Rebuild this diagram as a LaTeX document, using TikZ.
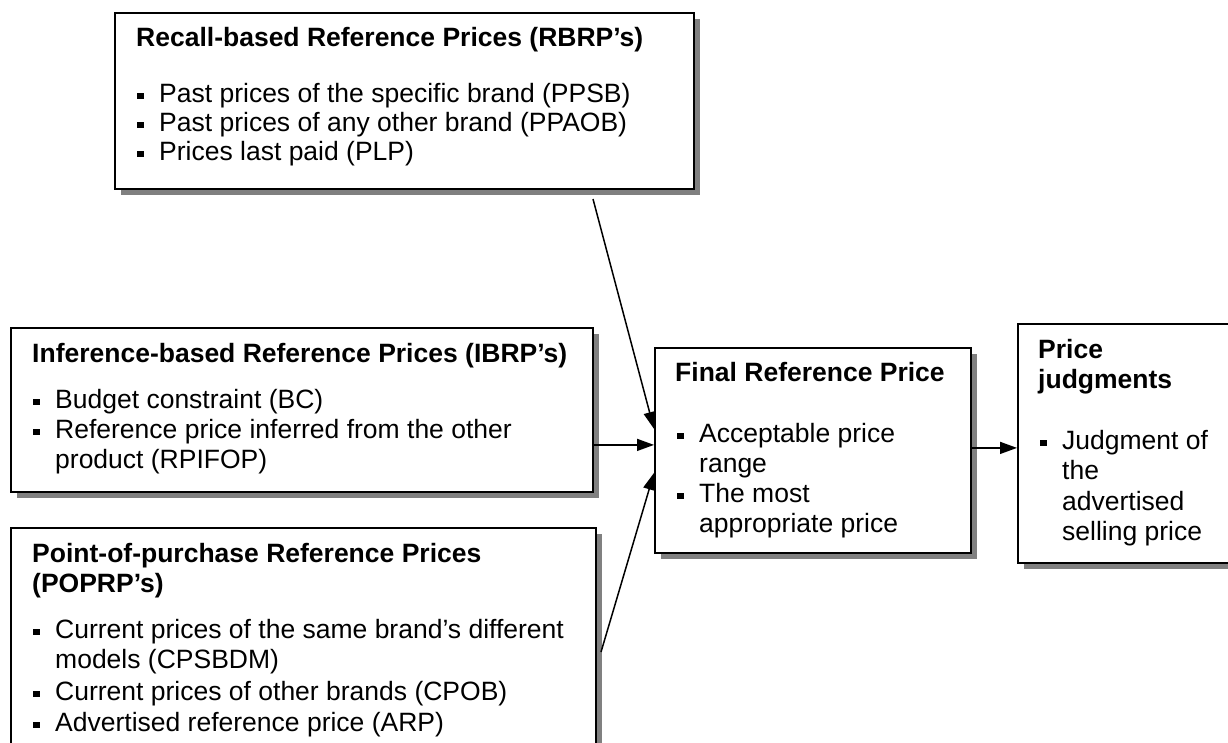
\documentclass[tikz,border=0pt]{standalone}
\usepackage{fontspec}
\setmainfont{Liberation Sans}
\usetikzlibrary{arrows.meta}
\newcommand\bsq{\makebox[22pt][l]{\rule[3pt]{6.5pt}{6.5pt}}}
\begin{document}
\begin{tikzpicture}[x=1pt,y=-1pt,
  box/.style={draw=black, line width=1.8pt, fill=white, inner sep=0pt, anchor=north west},
  shade/.style={fill=black!50},
  txt/.style={anchor=base west, inner sep=0pt, font=\fontsize{26.5}{30}\selectfont},
  ttl/.style={anchor=base west, inner sep=0pt, font=\fontsize{26.5}{30}\selectfont\bfseries},
  arr/.style={line width=1.5pt, -{Triangle[length=17pt,width=12pt]}}]
\useasboundingbox (0,0) rectangle (1228,742);
\clip (0,0) rectangle (1228,742);
\fill[white] (0,0) rectangle (1228,742);
% shadows
\fill[shade] (121,19) rectangle (700,195);
\fill[shade] (17,334) rectangle (599,498);
\fill[shade] (17,534) rectangle (602,800);
\fill[shade] (661,354) rectangle (977,559);
\fill[shade] (1024,330) rectangle (1260,569);
% boxes
\node[box, minimum width=579pt, minimum height=176pt] (rbrp) at (114,12) {};
\node[box, minimum width=582pt, minimum height=164pt] (ibrp) at (10,327) {};
\node[box, minimum width=585pt, minimum height=260pt] (poprp) at (10,527) {};
\node[box, minimum width=316pt, minimum height=205pt] (fin) at (654,347) {};
\node[box, minimum width=240pt, minimum height=239pt] (pj) at (1017,323) {};
% RBRP text
\node[ttl] (rt) at (136,46) {Recall-based Reference Prices (RBRP’s)};
\node[txt] (r1) at (137,102) {\bsq Past prices of the specific brand (PPSB)};
\node[txt] (r2) at (137,131) {\bsq Past prices of any other brand (PPAOB)};
\node[txt] (r3) at (137,160) {\bsq Prices last paid (PLP)};
% IBRP text
\node[ttl] (it) at (32,362) {Inference-based Reference Prices (IBRP’s)};
\node[txt] (i1) at (33,408) {\bsq Budget constraint (BC)};
\node[txt] (i2) at (33,438) {\bsq Reference price inferred from the other};
\node[txt] (i3) at (55,468) {product (RPIFOP)};
% POPRP text
\node[ttl] (pt1) at (32,562) {Point-of-purchase Reference Prices};
\node[ttl] (pt2) at (32,592) {(POPRP’s)};
\node[txt] (p1) at (33,638) {\bsq Current prices of the same brand’s different};
\node[txt] (p2) at (55,668) {models (CPSBDM)};
\node[txt] (p3) at (33,700) {\bsq Current prices of other brands (CPOB)};
\node[txt] (p4) at (33,731) {\bsq Advertised reference price (ARP)};
% Final text
\node[ttl] (ft) at (675,381) {Final Reference Price};
\node[txt] (f1) at (677,442) {\bsq Acceptable price};
\node[txt] (f2) at (699,472) {range};
\node[txt] (f3) at (677,502) {\bsq The most};
\node[txt] (f4) at (699,532) {appropriate price};
% Price judgments text
\node[ttl] (jt1) at (1038,358) {Price};
\node[ttl] (jt2) at (1038,388) {judgments};
\node[txt] (j1) at (1040,449) {\bsq Judgment of};
\node[txt] (j2) at (1062,479) {the};
\node[txt] (j3) at (1062,510) {advertised};
\node[txt] (j4) at (1062,540) {selling price};
% connectors
\coordinate (a1) at (593,199);
\coordinate (a3) at (601,652);
\coordinate (t1) at ([yshift=21.5pt]fin.west);
\coordinate (t2) at ([yshift=5.5pt]fin.west);
\coordinate (t3) at ([yshift=-22.5pt]fin.west);
\coordinate (t4) at ([yshift=2.5pt]fin.east);
\draw[arr] (a1) -- (t1);
\draw[arr] (ibrp.east |- t2) -- (t2);
\draw[arr] (a3) -- (t3);
\draw[arr] (t4) -- (pj.west |- t4);
\end{tikzpicture}
\end{document}
